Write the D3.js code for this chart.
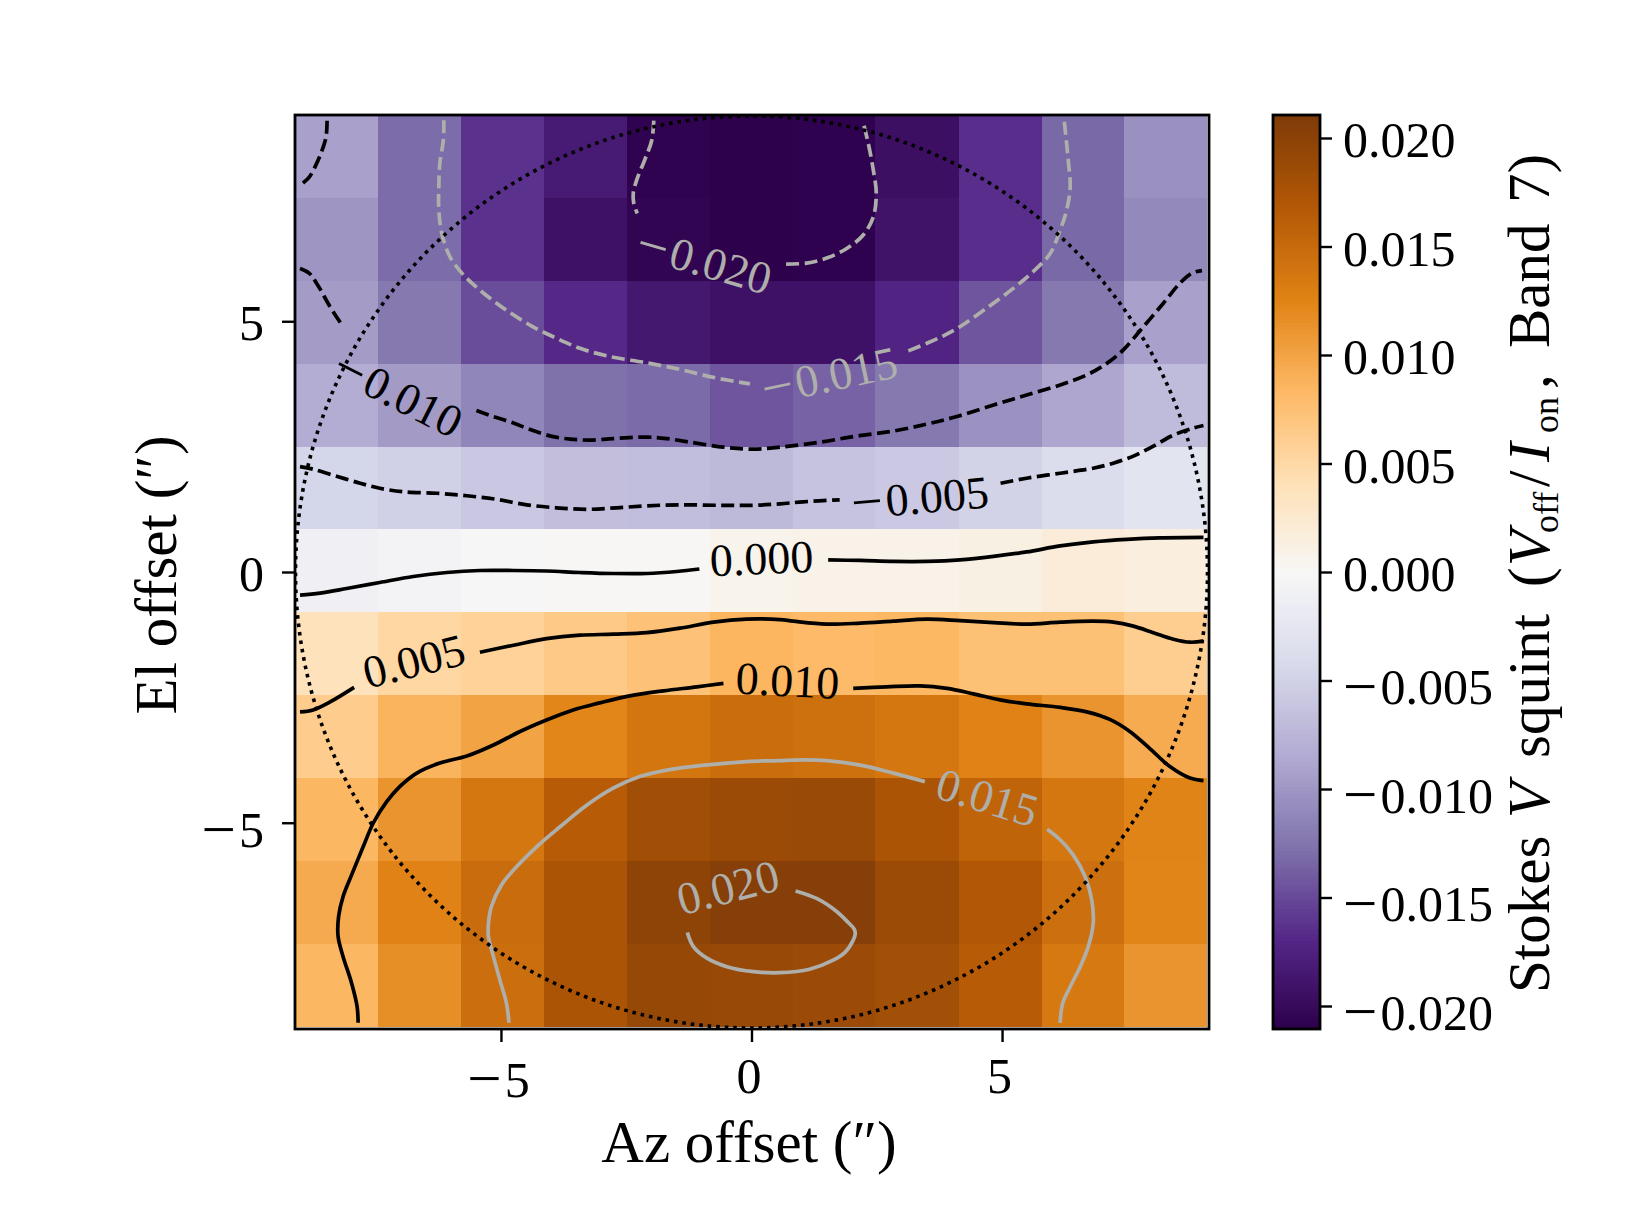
<!DOCTYPE html>
<html>
<head>
<meta charset="utf-8">
<script src="https://cdnjs.cloudflare.com/ajax/libs/d3/7.8.5/d3.min.js"></script>
<style>
body { margin:0; background:#fff; }
text { font-family:"Liberation Serif",serif; fill:#000; }
</style>
</head>
<body>
<div id="chart"></div>
<script>
// cell centres, arcsec
var azCells = [-8.28,-6.62,-4.97,-3.31,-1.66,-0.01,1.65,3.30,4.96,6.62,8.27];
var elCells = [8.28,6.63,4.98,3.32,1.67,0.02,-1.63,-3.28,-4.94,-6.59,-8.24];
var cellHalf = 0.828;

// Stokes V squint, one row per elevation (top to bottom)
var row0 = [-.0092,-.0130,-.0163,-.0182,-.0207,-.0210,-.0208,-.0194,-.0165,-.0132,-.0104];
var row1 = [-.0101,-.0130,-.0163,-.0192,-.0205,-.0210,-.0208,-.0190,-.0165,-.0132,-.0110];
var row2 = [-.0096,-.0122,-.0148,-.0168,-.0185,-.0192,-.0192,-.0172,-.0143,-.0122,-.0092];
var row3 = [-.0083,-.0097,-.0112,-.0127,-.0131,-.0143,-.0136,-.0122,-.0103,-.0088,-.0070];
var row4 = [-.0046,-.0051,-.0059,-.0067,-.0068,-.0072,-.0063,-.0058,-.0048,-.0038,-.0028];
var row5 = [-.0010,-.0006,-.0002,.0001,.0002,.0008,.0009,.0009,.0012,.0020,.0016];
var row6 = [.0038,.0052,.0057,.0066,.0074,.0086,.0081,.0084,.0075,.0075,.0061];
var row7 = [.0063,.0087,.0100,.0123,.0138,.0147,.0144,.0137,.0126,.0112,.0094];
var row8 = [.0085,.0112,.0137,.0165,.0183,.0187,.0189,.0175,.0156,.0137,.0125];
var row9 = [.0095,.0126,.0148,.0175,.0198,.0205,.0205,.0187,.0170,.0145,.0124];
var row10 = [.0085,.0116,.0146,.0175,.0192,.0190,.0188,.0182,.0165,.0135,.0112];
var rows = [row0,row1,row2,row3,row4,row5,row6,row7,row8,row9,row10];

var vmax = 0.02106;
var puorColors = ['#2d004b','#542788','#8073ac','#b2abd2','#d8daeb','#f7f7f7','#fee0b6','#fdb863','#e08214','#b35806','#7f3b08'];
var ticksAxis = [-5,0,5];
var ticksBar = [-0.020,-0.015,-0.010,-0.005,0,0.005,0.010,0.015,0.020];
var fwhmRadius = 9.1;

// contour traces [az, el]
var cNeg010a = [[-8.47,9.00],[-8.49,8.68],[-8.58,8.38],[-8.71,8.08],[-8.83,7.87],[-8.96,7.75]];
var cNeg010b = [[-9.01,6.05],[-8.83,5.96],[-8.68,5.76],[-8.41,5.29],[-8.17,4.92]];
var cNeg010c = [[-5.49,3.22],[-5.15,3.10],[-4.75,2.97],[-4.36,2.82],[-3.96,2.70],[-3.62,2.65],[-3.22,2.63],[-2.76,2.66],[-2.09,2.69],[-1.69,2.66],[-1.23,2.59],[-0.56,2.49],[0.04,2.45],[0.57,2.49],[1.37,2.59],[2.10,2.71],[2.83,2.81],[3.50,2.95],[4.10,3.10],[4.83,3.33],[5.49,3.53],[6.16,3.73],[6.69,3.93],[7.09,4.16],[7.42,4.43],[7.82,4.89],[8.22,5.36],[8.55,5.76],[8.79,5.96],[8.99,6.01]];
var cNeg015a = [[-6.14,9.01],[-6.15,8.61],[-6.22,8.15],[-6.24,7.68],[-6.24,7.22],[-6.18,6.75],[-6.02,6.29],[-5.78,5.96],[-5.42,5.62],[-4.89,5.22],[-4.36,4.89],[-3.89,4.66],[-3.42,4.46],[-2.89,4.31],[-2.09,4.17],[-1.43,4.04],[-0.76,3.88],[-0.03,3.75]];
var cNeg015b = [[3.13,4.41],[3.50,4.56],[3.83,4.71],[4.16,4.89],[4.69,5.26],[5.23,5.66],[5.62,5.99],[5.96,6.35],[6.16,6.82],[6.29,7.22],[6.36,7.68],[6.32,8.22],[6.24,9.01]];
var cNeg020a = [[-1.95,9.00],[-1.99,8.61],[-2.13,8.22],[-2.29,7.82],[-2.36,7.55],[-2.35,7.35],[-2.28,7.15]];
var cNeg020b = [[0.69,6.14],[1.10,6.16],[1.50,6.26],[1.90,6.45],[2.23,6.72],[2.43,7.08],[2.49,7.55],[2.43,8.02],[2.33,8.55],[2.22,9.00]];
var cNeg005a = [[-9.01,2.10],[-8.75,2.05],[-8.28,1.91],[-7.81,1.77],[-7.42,1.67],[-6.95,1.60],[-6.28,1.57],[-5.68,1.52],[-5.09,1.45],[-4.49,1.34],[-3.89,1.28],[-3.29,1.25],[-2.69,1.28],[-2.09,1.32],[-1.43,1.34],[-0.63,1.33],[0.04,1.33],[0.57,1.36],[1.03,1.40],[1.76,1.44]];
var cNeg005b = [[4.97,1.77],[5.49,1.87],[6.16,1.97],[6.82,2.07],[7.22,2.17],[7.62,2.31],[8.02,2.51],[8.42,2.73],[8.82,2.87],[9.02,2.92]];
var c000a = [[-9.01,-0.46],[-8.61,-0.42],[-8.08,-0.33],[-7.42,-0.21],[-6.75,-0.09],[-6.08,-0.01],[-5.42,0.03],[-4.75,0.03],[-4.09,0.02],[-3.42,-0.01],[-2.76,-0.03],[-2.09,-0.03],[-1.49,0.01],[-1.04,0.06]];
var c000b = [[1.53,0.24],[2.17,0.23],[2.83,0.21],[3.50,0.21],[4.16,0.24],[4.83,0.31],[5.49,0.40],[6.16,0.52],[6.82,0.60],[7.49,0.65],[8.15,0.68],[9.02,0.69]];
var c005a = [[-9.01,-2.79],[-8.75,-2.75],[-8.41,-2.59],[-7.93,-2.30]];
var c005b = [[-5.42,-1.60],[-4.75,-1.46],[-4.09,-1.33],[-3.42,-1.26],[-2.76,-1.24],[-2.09,-1.21],[-1.43,-1.12],[-0.76,-1.00],[-0.10,-0.94],[0.57,-0.95],[0.83,-0.98],[1.50,-1.04],[2.17,-1.02],[2.83,-0.98],[3.50,-0.94],[4.16,-0.97],[4.83,-1.01],[5.49,-1.04],[6.16,-1.00],[6.82,-0.98],[7.22,-1.00],[7.62,-1.08],[8.02,-1.21],[8.42,-1.34],[8.75,-1.40],[9.02,-1.38]];
var c010a = [[-7.85,-8.99],[-7.87,-8.67],[-7.98,-8.20],[-8.15,-7.67],[-8.25,-7.27],[-8.24,-6.87],[-8.15,-6.47],[-7.98,-6.04],[-7.75,-5.48],[-7.55,-5.01],[-7.28,-4.58],[-7.02,-4.28],[-6.68,-4.01],[-6.22,-3.81],[-5.68,-3.67],[-5.15,-3.45],[-4.62,-3.18],[-4.09,-2.95],[-3.56,-2.75],[-3.03,-2.61],[-2.43,-2.47],[-1.76,-2.37],[-1.09,-2.29],[-0.56,-2.22]];
var c010b = [[2.03,-2.32],[2.70,-2.29],[3.36,-2.27],[3.90,-2.32],[4.43,-2.43],[4.96,-2.55],[5.49,-2.63],[6.16,-2.70],[6.69,-2.79],[7.15,-2.94],[7.55,-3.18],[7.95,-3.52],[8.35,-3.88],[8.75,-4.11],[9.02,-4.16]];
var c015a = [[-4.84,-8.99],[-4.89,-8.60],[-5.02,-8.14],[-5.15,-7.67],[-5.25,-7.27],[-5.25,-7.01],[-5.19,-6.67],[-4.99,-6.24],[-4.69,-5.88],[-4.29,-5.48],[-3.82,-5.08],[-3.29,-4.65],[-2.76,-4.31],[-2.23,-4.08],[-1.69,-3.95],[-1.03,-3.86],[-0.10,-3.78],[0.57,-3.76],[0.83,-3.75],[1.50,-3.76],[2.17,-3.85],[2.83,-4.01],[3.46,-4.18]];
var c015b = [[5.90,-5.13],[6.16,-5.34],[6.42,-5.64],[6.66,-6.08],[6.79,-6.54],[6.82,-7.00],[6.72,-7.47],[6.56,-7.87],[6.36,-8.27],[6.21,-8.60],[6.16,-8.99]];
var c020a = [[0.88,-6.36],[1.30,-6.51],[1.70,-6.77],[1.93,-6.99],[2.05,-7.12],[2.07,-7.22],[2.03,-7.34],[1.87,-7.58],[1.63,-7.74],[1.16,-7.92],[0.57,-7.99],[0.04,-7.97],[-0.49,-7.87],[-0.89,-7.70],[-1.16,-7.47],[-1.28,-7.19]];

var contours = [
	{level:-0.010,pts:cNeg010a},{level:-0.010,pts:cNeg010b},{level:-0.010,pts:cNeg010c},
	{level:-0.015,pts:cNeg015a},{level:-0.015,pts:cNeg015b},
	{level:-0.020,pts:cNeg020a},{level:-0.020,pts:cNeg020b},
	{level:-0.005,pts:cNeg005a},{level:-0.005,pts:cNeg005b},
	{level:0,pts:c000a},{level:0,pts:c000b},
	{level:0.005,pts:c005a},{level:0.005,pts:c005b},
	{level:0.010,pts:c010a},{level:0.010,pts:c010b},
	{level:0.015,pts:c015a},{level:0.015,pts:c015b},
	{level:0.020,pts:c020a}
];

// inline contour labels: level, az, el, rotation
var labelLevels = [-0.020,-0.015,-0.010,-0.005,0,0.005,0.010,0.015,0.020];
var labelAz = [-0.94,1.55,-7.05,3.36,0.2,-6.74,0.72,4.71,-0.47];
var labelEl = [6.22,3.93,3.57,1.50,0.28,-1.77,-2.16,-4.49,-6.28];
var labelAngle = [16,-12,27,-5,-2.5,-14,3,17,-14.5];

var width = 1635, height = 1217;
var svg = d3.select("#chart").append("svg").attr("width",width).attr("height",height);

var x = d3.scaleLinear().domain([-9.11,9.13]).range([295,1209]);
var y = d3.scaleLinear().domain([-9.113,9.113]).range([1029,115]);
var barY = d3.scaleLinear().domain([-vmax,vmax]).range([1029,115]);
var color = d3.scaleLinear().domain(d3.range(11).map(function(i){ return vmax*(i-5)/5; })).range(puorColors);
var fmt = function(d){ return d3.format(".3f")(Math.abs(d)); };

function contourColor(level){ return Math.abs(level) >= 0.015 ? "#aeaeaa" : "#000"; }

svg.append("clipPath").attr("id","axclip").append("rect")
	.attr("x",295).attr("y",115).attr("width",914).attr("height",914);

// image cells, rounded so neighbours share a pixel edge
var main = svg.append("g");
rows.forEach(function(row,r){
	var top = Math.round(y(elCells[r]+cellHalf)), bottom = Math.round(y(elCells[r]-cellHalf));
	main.append("g").selectAll("rect").data(row).enter().append("rect")
		.attr("x",function(d,i){ return Math.round(x(azCells[i]-cellHalf)); })
		.attr("y",top)
		.attr("width",function(d,i){ return Math.round(x(azCells[i]+cellHalf))-Math.round(x(azCells[i]-cellHalf))+(i<row.length-1?1:0); })
		.attr("height",bottom-top+(r<rows.length-1?1:0))
		.attr("shape-rendering","crispEdges")
		.attr("fill",function(d){ return color(d); });
});

// contours
var line = d3.line().x(function(d){ return x(d[0]); }).y(function(d){ return y(d[1]); }).curve(d3.curveCatmullRom);
main.append("g").selectAll("path").data(contours).enter().append("path")
	.attr("d",function(d){ return line(d.pts); })
	.attr("fill","none")
	.attr("stroke-width",3.7)
	.attr("stroke",function(d){ return contourColor(d.level); })
	.attr("stroke-dasharray",function(d){ return d.level < 0 ? "13 5.5" : null; });

// primary beam circle
main.append("circle")
	.attr("cx",x(0)).attr("cy",y(0))
	.attr("r",x(fwhmRadius)-x(0))
	.attr("fill","none").attr("stroke","#000").attr("stroke-width",3.6)
	.attr("stroke-dasharray","3.6 4.9")
	.attr("clip-path","url(#axclip)");

function signedText(sel,d,digits){
	// the TeX minus is much wider than the font's one, so blow it up a bit
	var s = digits === 0 ? String(Math.abs(d)) : d3.format("."+digits+"f")(Math.abs(d));
	sel.text(null);
	if (d < 0) {
		sel.append("tspan").attr("font-size","1.22em").attr("dy","0.055em").text("\u2212");
		sel.append("tspan").attr("dx","0.06em").attr("dy","-0.055em").text(s);
	} else {
		sel.text(s);
	}
}

// contour labels
labelLevels.forEach(function(level,i){
	var t = svg.append("text")
		.attr("transform","translate("+x(labelAz[i])+","+y(labelEl[i])+") rotate("+labelAngle[i]+")")
		.attr("text-anchor","middle")
		.attr("y",16)
		.attr("font-size",46)
		.style("fill",contourColor(level));
	signedText(t,level,3);
});

// frame
svg.append("rect").attr("x",295).attr("y",115).attr("width",914).attr("height",914)
	.attr("fill","none").attr("stroke","#000").attr("stroke-width",2.8);

function styleAxis(g){
	g.select(".domain").remove();
	g.selectAll("line").attr("stroke","#000").attr("stroke-width",2.4);
	g.selectAll("text").attr("font-size",50);
}

var xAxis = svg.append("g").attr("transform","translate(0,1029)")
	.call(d3.axisBottom(x).tickValues(ticksAxis).tickSize(13).tickFormat(d3.format("d")));
styleAxis(xAxis);
xAxis.selectAll("text").attr("dy",null)
	.attr("y",function(d){ return d < 0 ? 67 : 64; })
	.attr("dx",-3)
	.each(function(d){ signedText(d3.select(this),d,0); });

var yAxis = svg.append("g").attr("transform","translate(295,0)")
	.call(d3.axisLeft(y).tickValues(ticksAxis).tickSize(13).tickFormat(d3.format("d")));
styleAxis(yAxis);
yAxis.selectAll("text").attr("dy",null)
	.attr("x",-31)
	.attr("y",function(d){ return d < 0 ? 23 : 18.5; })
	.each(function(d){ signedText(d3.select(this),d,0); });

svg.append("text").attr("x",749).attr("y",1162).attr("text-anchor","middle")
	.attr("font-size",59).text("Az offset (\u2033)");
svg.append("text").attr("transform","translate(176,575) rotate(-90)").attr("text-anchor","middle")
	.attr("font-size",59).text("El offset (\u2033)");

// colorbar, 256 steps like the mpl one
var barSteps = d3.range(256);
svg.append("g").selectAll("rect").data(barSteps).enter().append("rect")
	.attr("x",1273).attr("width",47)
	.attr("y",function(d){ return barY(-vmax+2*vmax*(d+1)/256); })
	.attr("height",914/256+1)
	.attr("shape-rendering","crispEdges")
	.attr("fill",function(d){ return color(-vmax+2*vmax*(d+0.5)/256); });
svg.append("rect").attr("x",1273).attr("y",115).attr("width",47).attr("height",914)
	.attr("fill","none").attr("stroke","#000").attr("stroke-width",2.8);

var barAxis = svg.append("g").attr("transform","translate(1320,0)")
	.call(d3.axisRight(barY).tickValues(ticksBar).tickSize(12).tickFormat(fmt));
styleAxis(barAxis);
barAxis.selectAll("text").attr("dy",null)
	.attr("x",23)
	.attr("y",function(d){ return d < -0.001 ? 22.5 : 18.5; })
	.each(function(d){ signedText(d3.select(this),d,3); });

// each piece is set by hand, TeX spaces the label wider than this font does
var barLabel = svg.append("text").attr("transform","translate(1549,993) rotate(-90)").attr("font-size",59);
barLabel.append("tspan").attr("x",0).text("Stokes");
barLabel.append("tspan").attr("x",175).attr("font-style","italic").text("V");
barLabel.append("tspan").attr("x",235).text("squint");
barLabel.append("tspan").attr("x",406).text("(");
barLabel.append("tspan").attr("x",427).attr("font-style","italic").text("V");
barLabel.append("tspan").attr("x",460).attr("font-size",36).attr("dy",9).text("off");
barLabel.append("tspan").attr("x",506).attr("dy",-9).text("/");
barLabel.append("tspan").attr("x",531).attr("font-style","italic").text("I");
barLabel.append("tspan").attr("x",560).attr("font-size",36).attr("dy",9).text("on");
barLabel.append("tspan").attr("x",604).attr("dy",-9).text(",");
barLabel.append("tspan").attr("x",645).text("Band");
barLabel.append("tspan").attr("x",790).text("7)");
</script>
</body>
</html>
